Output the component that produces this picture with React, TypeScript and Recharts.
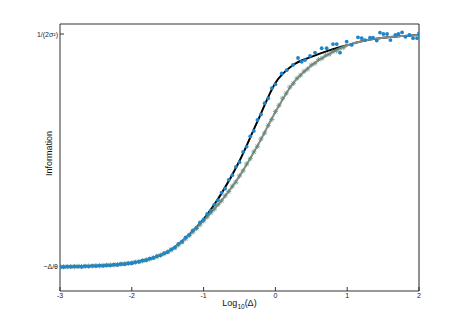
import React from 'react';
import { ComposedChart, Line, Scatter, XAxis, YAxis } from 'recharts';

// smooth model curves (0.25 grid)
const lineX = [-3, -2.75, -2.5, -2.25, -2, -1.75, -1.5, -1.25, -1, -0.75, -0.5, -0.25, 0, 0.25, 0.5, 0.75, 1, 1.25, 1.5, 1.75, 2];
const blackCurve = [0, 0.002, 0.005, 0.009, 0.017, 0.035, 0.065, 0.125, 0.205, 0.316, 0.455, 0.625, 0.79, 0.868, 0.902, 0.93, 0.952, 0.972, 0.984, 0.991, 0.996];
const greyCurve = [0, 0.002, 0.005, 0.009, 0.017, 0.034, 0.064, 0.122, 0.199, 0.285, 0.39, 0.52, 0.665, 0.79, 0.865, 0.915, 0.952, 0.972, 0.984, 0.991, 0.996];

// blue dots (measured)
const blueX = [
  -3, -2.95, -2.9, -2.85, -2.8, -2.75, -2.7, -2.65, -2.6, -2.55, -2.5, -2.45, -2.4, -2.35, -2.3, -2.25,
  -2.2, -2.15, -2.1, -2.05, -2, -1.95, -1.9, -1.85, -1.8, -1.75, -1.7, -1.65, -1.6, -1.55, -1.5, -1.45,
  -1.4, -1.35, -1.3, -1.25, -1.2, -1.15, -1.1, -1.05, -1, -0.95, -0.9, -0.85, -0.8, -0.75, -0.7, -0.65,
  -0.6, -0.55, -0.5, -0.45, -0.4, -0.35, -0.3, -0.25, -0.2, -0.15, -0.1, -0.05, 0,
  0.088, 0.157, 0.245, 0.315, 0.366, 0.412, 0.482, 0.552, 0.645, 0.714, 0.802, 0.854, 0.9, 0.993, 1.063,
  1.15, 1.202, 1.248, 1.318, 1.359, 1.411, 1.457, 1.504, 1.555, 1.602, 1.671, 1.713, 1.764, 1.81, 1.866,
  1.917, 1.973, 2
];
const blueY = [
  0.001, 0, 0.002, 0.001, 0.003, 0.002, 0.001, 0.004, 0.003, 0.005, 0.004, 0.006, 0.005, 0.008, 0.007, 0.01,
  0.009, 0.013, 0.012, 0.016, 0.016, 0.021, 0.022, 0.028, 0.029, 0.036, 0.039, 0.047, 0.05, 0.059, 0.064, 0.076,
  0.083, 0.099, 0.108, 0.127, 0.138, 0.157, 0.168, 0.191, 0.203, 0.228, 0.242, 0.268, 0.287, 0.319, 0.336, 0.374,
  0.394, 0.43, 0.45, 0.494, 0.517, 0.561, 0.584, 0.631, 0.655, 0.703, 0.724, 0.768, 0.784,
  0.831, 0.845, 0.867, 0.897, 0.881, 0.888, 0.906, 0.92, 0.939, 0.939, 0.957, 0.957, 0.92, 0.967, 0.953,
  0.986, 0.982, 0.974, 0.984, 0.984, 0.972, 1.006, 1.0, 1.0, 0.974, 0.996, 1.0, 1.007, 0.988, 0.996,
  0.982, 0.982, 1.003
];

// grey asterisks (measured)
const greyX = [
  -3, -2.95, -2.9, -2.85, -2.8, -2.75, -2.7, -2.65, -2.6, -2.55, -2.5, -2.45, -2.4, -2.35, -2.3, -2.25,
  -2.2, -2.15, -2.1, -2.05, -2, -1.95, -1.9, -1.85, -1.8, -1.75, -1.7, -1.65, -1.6, -1.55, -1.5, -1.45,
  -1.4, -1.35, -1.3, -1.25, -1.2, -1.15, -1.1, -1.05, -1, -0.95, -0.9, -0.85, -0.8, -0.75, -0.7, -0.65,
  -0.6, -0.55, -0.5, -0.45, -0.4, -0.35, -0.3, -0.25, -0.2, -0.15, -0.1, -0.05, 0, 0.05, 0.1, 0.15,
  0.2, 0.25, 0.3, 0.35, 0.4, 0.45, 0.5, 0.55, 0.6, 0.65, 0.7, 0.75, 0.8, 0.85, 0.9, 0.95
];
const greyY = [
  0, 0.001, 0.001, 0.002, 0.001, 0.003, 0.002, 0.003, 0.004, 0.004, 0.006, 0.005, 0.007, 0.007, 0.009, 0.009,
  0.011, 0.012, 0.014, 0.015, 0.018, 0.02, 0.024, 0.026, 0.031, 0.034, 0.04, 0.044, 0.051, 0.057, 0.065, 0.073,
  0.083, 0.095, 0.107, 0.121, 0.135, 0.15, 0.165, 0.181, 0.198, 0.215, 0.233, 0.249, 0.269, 0.284, 0.306, 0.324,
  0.347, 0.364, 0.391, 0.413, 0.442, 0.465, 0.494, 0.518, 0.55, 0.575, 0.608, 0.633, 0.667, 0.694, 0.724, 0.746,
  0.772, 0.788, 0.81, 0.823, 0.84, 0.85, 0.867, 0.874, 0.89, 0.896, 0.909, 0.913, 0.925, 0.928, 0.939, 0.942
];

const xTicks = [-3, -2, -1, 0, 1, 2];
const yTicks = [0, 1];
const yTickLabels = ['~Δ/θ', '1/(2σ²)'];

const FONT = '"Liberation Sans", Arial, Helvetica, sans-serif';

const blackData = lineX.map((x, i) => ({ x, y: blackCurve[i] }));
const greyData = lineX.map((x, i) => ({ x, y: greyCurve[i] }));
const blueData = blueX.map((x, i) => ({ x, y: blueY[i] }));
const starData = greyX.map((x, i) => ({ x, y: greyY[i] }));

const Dot = (props: any) => <circle cx={props.cx} cy={props.cy} r={1.9} fill="#1c86cc" />;

const Star = (props: any) => {
  const { cx, cy } = props;
  const s = 2.6;
  const d = 1.9;
  return (
    <g stroke="#5f8a72" strokeWidth={0.8} opacity={0.9}>
      <line x1={cx - s} y1={cy} x2={cx + s} y2={cy} />
      <line x1={cx} y1={cy - s} x2={cx} y2={cy + s} />
      <line x1={cx - d} y1={cy - d} x2={cx + d} y2={cy + d} />
      <line x1={cx - d} y1={cy + d} x2={cx + d} y2={cy - d} />
    </g>
  );
};

const tickStyle = { fontSize: 7, fill: '#222', fontFamily: FONT };
const Y_DOMAIN = [-0.103, 1.043];

export default function App() {
  return (
    <div style={{ position: 'absolute', left: 0, top: 0, background: '#fff' }}>
      <ComposedChart width={463} height={327} margin={{ top: 23, right: 43, bottom: 35, left: 59 }}>
        <XAxis
          xAxisId="b"
          type="number"
          dataKey="x"
          domain={[-3, 2]}
          ticks={xTicks}
          allowDataOverflow
          height={1}
          tickSize={-4}
          tickMargin={6}
          tick={tickStyle}
          stroke="#333"
          label={{
            content: (p: any) => {
              const vb = p.viewBox;
              return (
                <text x={vb.x + vb.width / 2} y={vb.y + 15} textAnchor="middle" fontSize={9} fontFamily={FONT} fill="#111">
                  Log<tspan fontSize={6.5} dy={2.5}>10</tspan>
                  <tspan dy={-2.5}>(Δ)</tspan>
                </text>
              );
            },
          }}
        />
        <XAxis
          xAxisId="t"
          orientation="top"
          type="number"
          dataKey="x"
          domain={[-3, 2]}
          ticks={xTicks}
          allowDataOverflow
          height={1}
          tickSize={-4}
          tick={false}
          stroke="#333"
        />
        <YAxis
          yAxisId="l"
          type="number"
          dataKey="y"
          domain={Y_DOMAIN}
          ticks={yTicks}
          allowDataOverflow
          width={1}
          tickSize={-4}
          tickMargin={6}
          tick={tickStyle}
          tickFormatter={(v: number) => yTickLabels[yTicks.indexOf(v)] ?? ''}
          stroke="#333"
          label={{
            content: (p: any) => {
              const vb = p.viewBox;
              const cx = 52;
              const cy = vb.y + vb.height / 2 - 4;
              return (
                <text x={cx} y={cy} textAnchor="middle" fontSize={9} fontFamily={FONT} fill="#111" transform={`rotate(-90 ${cx} ${cy})`}>
                  Information
                </text>
              );
            },
          }}
        />
        <YAxis
          yAxisId="r"
          orientation="right"
          type="number"
          dataKey="y"
          domain={Y_DOMAIN}
          ticks={yTicks}
          allowDataOverflow
          width={1}
          tickSize={-4}
          tick={false}
          stroke="#222"
        />
        <Line
          xAxisId="b"
          yAxisId="l"
          data={blackData}
          dataKey="y"
          type="monotone"
          stroke="#000"
          strokeWidth={2}
          dot={false}
          isAnimationActive={false}
        />
        <Line
          xAxisId="b"
          yAxisId="l"
          data={greyData}
          dataKey="y"
          type="monotone"
          stroke="#8a8a8a"
          strokeWidth={2}
          dot={false}
          isAnimationActive={false}
        />
        <Scatter xAxisId="b" yAxisId="l" data={starData} dataKey="y" shape={Star} isAnimationActive={false} />
        <Scatter xAxisId="b" yAxisId="l" data={blueData} dataKey="y" shape={Dot} isAnimationActive={false} />
      </ComposedChart>
    </div>
  );
}
